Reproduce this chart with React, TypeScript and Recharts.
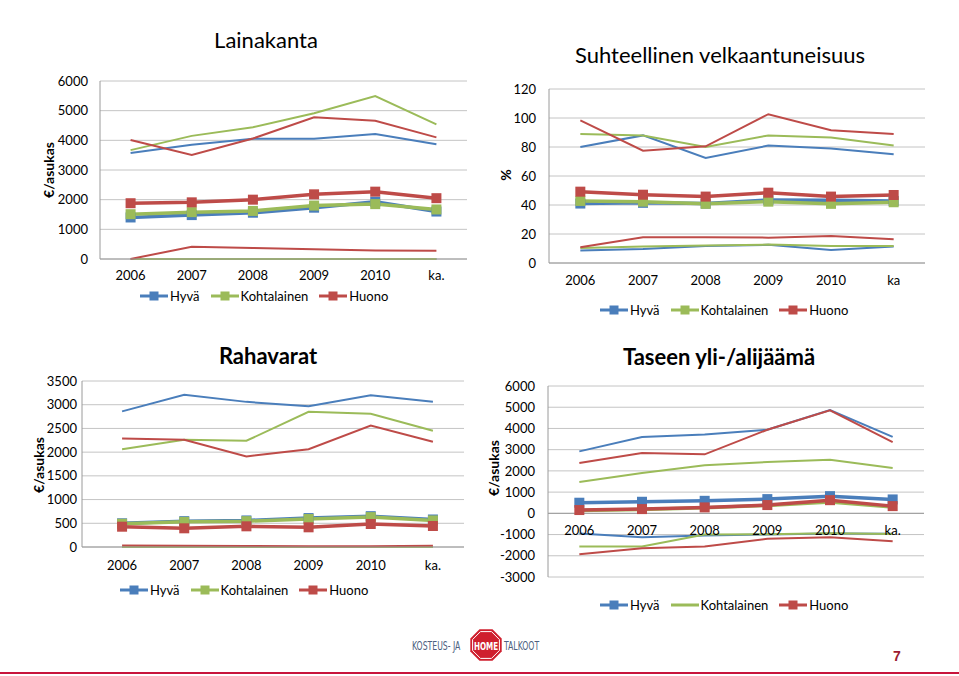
import React from 'react';
import { CartesianGrid, Line, LineChart, ReferenceLine, XAxis, YAxis } from 'recharts';

const years = ['2006', '2007', '2008', '2009', '2010', 'ka.'];
const yearsKa = ['2006', '2007', '2008', '2009', '2010', 'ka'];

// Lainakanta, €/asukas
const lainaHyvaHi = [3570, 3850, 4050, 4050, 4210, 3870];
const lainaHyvaMid = [1400, 1480, 1560, 1730, 1930, 1600];
const lainaHyvaLo = [0, 0, 0, 0, 0, 0];
const lainaKohtHi = [3670, 4150, 4440, 4910, 5490, 4540];
const lainaKohtMid = [1510, 1580, 1620, 1800, 1850, 1670];
const lainaKohtLo = [0, 0, 0, 0, 0, 0];
const lainaHuonoHi = [4010, 3510, 4060, 4780, 4660, 4100];
const lainaHuonoMid = [1880, 1910, 2000, 2180, 2270, 2050];
const lainaHuonoLo = [0, 415, 370, 330, 290, 275];

// Suhteellinen velkaantuneisuus, %
const velkaHyvaHi = [80, 88, 72.5, 81, 79, 75];
const velkaHyvaMid = [41, 41.5, 41, 43.5, 43.3, 42.8];
const velkaHyvaLo = [8.6, 9.7, 11.8, 12.5, 9, 11.3];
const velkaKohtHi = [89, 88, 80, 88, 86.6, 81];
const velkaKohtMid = [42.8, 42.3, 40.8, 42.3, 40.8, 41.9];
const velkaKohtLo = [10.4, 11.3, 12, 12.7, 11.8, 11.8];
const velkaHuonoHi = [98.3, 77.5, 80.5, 102.6, 91.6, 89];
const velkaHuonoMid = [49.2, 47.1, 45.8, 48.5, 45.8, 46.9];
const velkaHuonoLo = [10.8, 17.7, 17.7, 17.5, 18.6, 16.3];

// Rahavarat, €/asukas
const rahaHyvaHi = [2860, 3210, 3060, 2970, 3200, 3060];
const rahaHyvaMid = [500, 545, 560, 610, 650, 580];
const rahaHyvaLo = [0, 0, 0, 0, 0, 0];
const rahaKohtHi = [2060, 2260, 2240, 2850, 2810, 2450];
const rahaKohtMid = [490, 530, 545, 590, 630, 560];
const rahaKohtLo = [0, 0, 0, 0, 0, 0];
const rahaHuonoHi = [2290, 2260, 1910, 2060, 2560, 2220];
const rahaHuonoMid = [428, 394, 436, 415, 485, 443];
const rahaHuonoLo = [30, 25, 20, 15, 15, 25];

// Taseen yli-/alijäämä, €/asukas
const taseHyvaHi = [2920, 3600, 3720, 3940, 4870, 3600];
const taseHyvaMid = [500, 545, 590, 670, 810, 655];
const taseHyvaLo = [-950, -1130, -1040, -1000, -950, -960];
const taseKohtHi = [1480, 1900, 2270, 2420, 2530, 2140];
const taseKohtMid = [130, 180, 260, 370, 530, 300];
const taseKohtLo = [-1560, -1560, -1000, -980, -940, -970];
const taseHuonoHi = [2370, 2840, 2780, 3940, 4850, 3360];
const taseHuonoMid = [155, 200, 280, 390, 620, 340];
const taseHuonoLo = [-1930, -1650, -1560, -1200, -1130, -1320];

const lainaTicks = [0, 1000, 2000, 3000, 4000, 5000, 6000];
const velkaTicks = [0, 20, 40, 60, 80, 100, 120];
const rahaTicks = [0, 500, 1000, 1500, 2000, 2500, 3000, 3500];
const taseTicks = [-3000, -2000, -1000, 0, 1000, 2000, 3000, 4000, 5000, 6000];

const BLUE = '#4a7ebb';
const GREEN = '#9bbb59';
const RED = '#be4b48';
const FONT = 'Lato, "Open Sans", sans-serif';

type Row = Record<string, string | number>;

function buildRows(cats: string[], series: Record<string, number[]>): Row[] {
  return cats.map((cat, i) => {
    const row: Row = { cat };
    for (const k of Object.keys(series)) row[k] = series[k][i];
    return row;
  });
}

const lainaRows = buildRows(years, {
  hyvaHi: lainaHyvaHi, hyvaMid: lainaHyvaMid, hyvaLo: lainaHyvaLo,
  kohtHi: lainaKohtHi, kohtMid: lainaKohtMid, kohtLo: lainaKohtLo,
  huonoHi: lainaHuonoHi, huonoMid: lainaHuonoMid, huonoLo: lainaHuonoLo,
});
const velkaRows = buildRows(yearsKa, {
  hyvaHi: velkaHyvaHi, hyvaMid: velkaHyvaMid, hyvaLo: velkaHyvaLo,
  kohtHi: velkaKohtHi, kohtMid: velkaKohtMid, kohtLo: velkaKohtLo,
  huonoHi: velkaHuonoHi, huonoMid: velkaHuonoMid, huonoLo: velkaHuonoLo,
});
const rahaRows = buildRows(years, {
  hyvaHi: rahaHyvaHi, hyvaMid: rahaHyvaMid, hyvaLo: rahaHyvaLo,
  kohtHi: rahaKohtHi, kohtMid: rahaKohtMid, kohtLo: rahaKohtLo,
  huonoHi: rahaHuonoHi, huonoMid: rahaHuonoMid, huonoLo: rahaHuonoLo,
});
const taseRows = buildRows(years, {
  hyvaHi: taseHyvaHi, hyvaMid: taseHyvaMid, hyvaLo: taseHyvaLo,
  kohtHi: taseKohtHi, kohtMid: taseKohtMid, kohtLo: taseKohtLo,
  huonoHi: taseHuonoHi, huonoMid: taseHuonoMid, huonoLo: taseHuonoLo,
});

const squareDot = (color: string) => (props: any) => {
  const { cx, cy, index } = props;
  return <rect key={`sq-${index}`} x={cx - 5} y={cy - 5} width={10} height={10} fill={color} />;
};

type Plot = { left: number; top: number; right: number; bottom: number };

function TrendPanel({
  plot, rows, domain, ticks, labelOffset, tickGap = 12, padLeft = 0, crossZero = false, greenMarkers = true,
}: {
  plot: Plot; rows: Row[]; domain: [number, number]; ticks: number[]; labelOffset: number;
  tickGap?: number; padLeft?: number; crossZero?: boolean; greenMarkers?: boolean;
}) {
  const axisW = 70;
  const padTop = 12;
  const padRight = 24;
  const plotW = plot.right - plot.left;
  const width = plotW + axisW + padRight;
  const height = plot.bottom - plot.top + padTop + 30;
  // Excel places each category in the middle of its band
  const halfBand = (plotW - padLeft) / rows.length / 2;

  const thin = (key: string, color: string) => (
    <Line key={key} type="linear" dataKey={key} stroke={color} strokeWidth={2} dot={false} activeDot={false} isAnimationActive={false} />
  );
  const thick = (key: string, color: string, markers: boolean) => (
    <Line key={key} type="linear" dataKey={key} stroke={color} strokeWidth={3.5}
      dot={markers ? squareDot(color) : false} activeDot={false} isAnimationActive={false} />
  );

  return (
    <div style={{ position: 'absolute', left: plot.left - axisW, top: plot.top - padTop }}>
      <LineChart width={width} height={height} data={rows} margin={{ top: padTop, right: padRight, bottom: 0, left: 0 }}>
        <CartesianGrid vertical={false} stroke="#c4c4c4" />
        <XAxis
          dataKey="cat"
          height={30}
          interval={0}
          padding={{ left: padLeft + halfBand, right: halfBand }}
          axisLine={crossZero ? false : { stroke: '#9a9a9a' }}
          tickLine={false}
          tickSize={0}
          tickMargin={0}
          tick={(p: any) => (
            <text x={p.x} y={p.y + labelOffset} textAnchor="middle" dominantBaseline="central"
              fontSize={13} fontFamily={FONT} fill="#000">
              {p.payload.value}
            </text>
          )}
        />
        <YAxis
          width={axisW}
          domain={domain}
          ticks={ticks}
          interval={0}
          axisLine={{ stroke: '#9a9a9a' }}
          tickLine={false}
          tickSize={0}
          tickMargin={tickGap}
          tick={{ fill: '#000', fontSize: 13, fontFamily: FONT }}
        />
        {crossZero && <ReferenceLine y={0} stroke="#9a9a9a" />}
        {thin('hyvaHi', BLUE)}
        {thin('kohtHi', GREEN)}
        {thin('huonoHi', RED)}
        {thin('hyvaLo', BLUE)}
        {thin('kohtLo', GREEN)}
        {thin('huonoLo', RED)}
        {thick('hyvaMid', BLUE, true)}
        {thick('kohtMid', GREEN, greenMarkers)}
        {thick('huonoMid', RED, true)}
      </LineChart>
    </div>
  );
}

function SeriesLegend({ left, top, greenMarker = true }: { left: number; top: number; greenMarker?: boolean }) {
  const items = [
    { label: 'Hyvä', color: BLUE, marker: true },
    { label: 'Kohtalainen', color: GREEN, marker: greenMarker },
    { label: 'Huono', color: RED, marker: true },
  ];
  return (
    <div style={{ position: 'absolute', left, top, display: 'flex', alignItems: 'center', fontFamily: FONT, fontSize: 13, color: '#000', whiteSpace: 'nowrap' }}>
      {items.map((it) => (
        <div key={it.label} style={{ display: 'flex', alignItems: 'center', marginRight: 11 }}>
          <svg width={28} height={14}>
            <line x1={0} y1={7} x2={28} y2={7} stroke={it.color} strokeWidth={3} />
            {it.marker && <rect x={9.5} y={2.5} width={9} height={9} fill={it.color} />}
          </svg>
          <span style={{ marginLeft: 2 }}>{it.label}</span>
        </div>
      ))}
    </div>
  );
}

function Title({ cx, cy, text, bold }: { cx: number; cy: number; text: string; bold?: boolean }) {
  return (
    <div style={{ position: 'absolute', left: cx - 200, top: cy - 14, width: 400, height: 28, lineHeight: '28px', textAlign: 'center', fontFamily: FONT, fontSize: 22, fontWeight: bold ? 700 : 400, color: '#000' }}>
      {text}
    </div>
  );
}

function AxisLabel({ cx, cy, text }: { cx: number; cy: number; text: string }) {
  return (
    <div style={{ position: 'absolute', left: cx, top: cy, transform: 'translate(-50%, -50%) rotate(-90deg)', fontFamily: FONT, fontSize: 14, fontWeight: 700, color: '#000', whiteSpace: 'nowrap' }}>
      {text}
    </div>
  );
}

function Logo() {
  const cx = 81;
  const cy = 21;
  const octagon = (r: number) =>
    Array.from({ length: 8 }, (_, k) => {
      const a = Math.PI / 8 + (k * Math.PI) / 4;
      return `${(cx + r * Math.cos(a)).toFixed(1)},${(cy + r * Math.sin(a)).toFixed(1)}`;
    }).join(' ');
  const logoFont = '"DejaVu Sans Condensed", "DejaVu Sans", sans-serif';
  return (
    <svg style={{ position: 'absolute', left: 405, top: 624 }} width={150} height={42}>
      <text transform="translate(7 26) scale(1 1.35)" fontFamily={logoFont} fontSize={8.6} fill="#4d5f80">KOSTEUS- JA</text>
      <polygon points={octagon(17)} fill="#cf1f2e" />
      <polygon points={octagon(14.5)} fill="none" stroke="#fff" strokeWidth={1} />
      <text transform={`translate(${cx} 25.5) scale(1 1.3)`} textAnchor="middle" fontFamily={logoFont} fontWeight={700} fontSize={8} fill="#fff">HOME</text>
      <text transform="translate(99 26) scale(1 1.35)" fontFamily={logoFont} fontSize={8.6} fill="#4d5f80">TALKOOT</text>
    </svg>
  );
}

export default function App() {
  return (
    <div style={{ position: 'absolute', left: 0, top: 0, width: 959, height: 676, background: '#fff', overflow: 'hidden' }}>
      <Title cx={266} cy={40} text="Lainakanta" />
      <AxisLabel cx={48} cy={170} text="€/asukas" />
      <TrendPanel plot={{ left: 100, top: 81, right: 467, bottom: 259 }} rows={lainaRows} domain={[0, 6000]} ticks={lainaTicks} labelOffset={16} />
      <SeriesLegend left={140} top={288} />

      <Title cx={720} cy={55} text="Suhteellinen velkaantuneisuus" />
      <AxisLabel cx={505} cy={175} text="%" />
      <TrendPanel plot={{ left: 549, top: 89, right: 925, bottom: 263 }} rows={velkaRows} domain={[0, 120]} ticks={velkaTicks} labelOffset={17} tickGap={13} />
      <SeriesLegend left={600} top={302} />

      <Title cx={268} cy={356} text="Rahavarat" bold />
      <AxisLabel cx={38} cy={465} text="€/asukas" />
      <TrendPanel plot={{ left: 82, top: 381, right: 464, bottom: 547 }} rows={rahaRows} domain={[0, 3500]} ticks={rahaTicks} labelOffset={18} tickGap={5} padLeft={9} />
      <SeriesLegend left={120} top={582} />

      <Title cx={719} cy={357} text="Taseen yli-/alijäämä" bold />
      <AxisLabel cx={493} cy={468} text="€/asukas" />
      <TrendPanel plot={{ left: 548, top: 386, right: 924, bottom: 577 }} rows={taseRows} domain={[-3000, 6000]} ticks={taseTicks} labelOffset={-47} tickGap={13} crossZero greenMarkers={false} />
      <SeriesLegend left={600} top={597} greenMarker={false} />

      <Logo />
      <div style={{ position: 'absolute', left: 880, top: 648, width: 34, textAlign: 'center', fontFamily: '"Liberation Sans", Arial, sans-serif', fontSize: 14, fontWeight: 700, color: '#9b1b30' }}>7</div>
      <div style={{ position: 'absolute', left: 0, top: 672, width: 959, height: 2, background: '#c8143c' }} />
    </div>
  );
}
